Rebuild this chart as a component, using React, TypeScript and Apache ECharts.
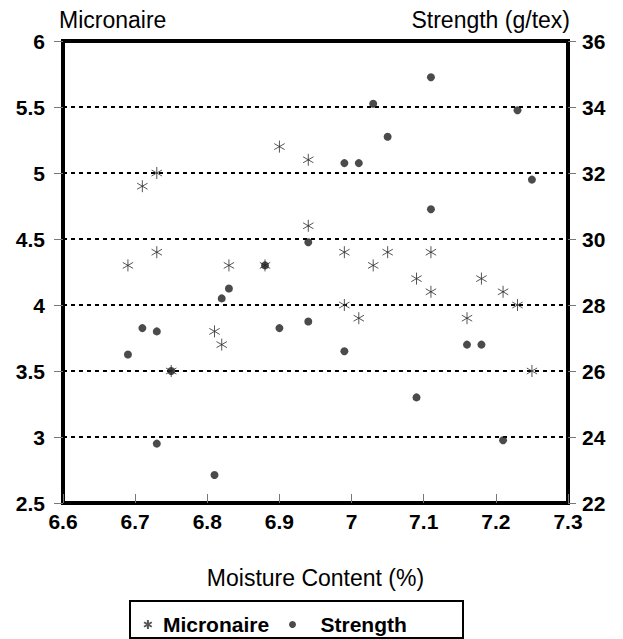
import React, { useEffect, useRef } from "react";
import * as echarts from "echarts";

const moisture = [6.69, 6.71, 6.73, 6.73, 6.75, 6.81, 6.82, 6.83, 6.88, 6.9, 6.94, 6.94, 6.99, 6.99, 7.01, 7.03, 7.05, 7.09, 7.11, 7.11, 7.16, 7.18, 7.21, 7.23, 7.25];
const micronaire = [4.3, 4.9, 5.0, 4.4, 3.5, 3.8, 3.7, 4.3, 4.3, 5.2, 5.1, 4.6, 4.4, 4.0, 3.9, 4.3, 4.4, 4.2, 4.4, 4.1, 3.9, 4.2, 4.1, 4.0, 3.5];
const strengthMoisture = [6.69, 6.71, 6.73, 6.73, 6.75, 6.81, 6.82, 6.83, 6.88, 6.9, 6.94, 6.94, 6.99, 6.99, 7.01, 7.03, 7.05, 7.09, 7.11, 7.11, 7.16, 7.18, 7.21, 7.23, 7.25];
const strength = [26.5, 27.3, 27.2, 23.8, 26.0, 22.85, 28.2, 28.5, 29.2, 27.3, 29.9, 27.5, 32.3, 26.6, 32.3, 34.1, 33.1, 25.2, 34.9, 30.9, 26.8, 26.8, 23.9, 33.9, 31.8];

const FONT = "Liberation Sans, Arial, sans-serif";
const STAR = "path://M0,-6L0,6M-5.2,-3L5.2,3M-5.2,3L5.2,-3";

export default function App() {
  const ref = useRef<HTMLDivElement>(null);
  useEffect(() => {
    if (!ref.current) return;
    const chart = echarts.init(ref.current, null, { renderer: "svg" });
    const fmt = (v: number) => String(+Number(v).toFixed(1));
    chart.setOption({
      animation: false,
      backgroundColor: "#fff",
      textStyle: { fontFamily: FONT, color: "#000" },
      grid: { left: 63, right: 55, top: 41, bottom: 136, show: true, borderColor: "#000", borderWidth: 4, backgroundColor: "transparent" },
      xAxis: {
        type: "value",
        min: 6.6,
        max: 7.3,
        interval: 0.1,
        name: "Moisture Content (%)",
        nameLocation: "middle",
        nameGap: 63,
        nameTextStyle: { fontSize: 23, fontFamily: FONT, color: "#000" },
        axisLine: { show: true, lineStyle: { color: "#000", width: 4 } },
        axisTick: { show: true, inside: true, length: 9, lineStyle: { color: "#777", width: 1 } },
        axisLabel: { fontSize: 21, fontWeight: "bold", color: "#000", fontFamily: FONT, margin: 8, formatter: fmt },
        splitLine: { show: false },
      },
      yAxis: [
        {
          type: "value",
          min: 2.5,
          max: 6,
          interval: 0.5,
          position: "left",
          name: "Micronaire",
          nameLocation: "end",
          nameGap: 10,
          nameTextStyle: { fontSize: 23, fontFamily: FONT, color: "#000", align: "left", verticalAlign: "bottom", padding: [0, 0, 0, -4] },
          axisLine: { show: true, lineStyle: { color: "#000", width: 4 } },
          axisTick: { show: true, inside: false, length: 9, lineStyle: { color: "#777", width: 1 } },
          axisLabel: { fontSize: 21, fontWeight: "bold", color: "#000", fontFamily: FONT, margin: 18, formatter: fmt },
          splitLine: { show: true, lineStyle: { color: "#000", width: 2, type: [4, 4] } },
        },
        {
          type: "value",
          min: 22,
          max: 36,
          interval: 2,
          position: "right",
          name: "Strength (g/tex)",
          nameLocation: "end",
          nameGap: 10,
          nameTextStyle: { fontSize: 23, fontFamily: FONT, color: "#000", align: "right", verticalAlign: "bottom", padding: [0, -2, 0, 0] },
          axisLine: { show: true, lineStyle: { color: "#000", width: 4 } },
          axisTick: { show: true, inside: false, length: 8, lineStyle: { color: "#777", width: 1 } },
          axisLabel: { fontSize: 21, fontWeight: "bold", color: "#000", fontFamily: FONT, margin: 14 },
          splitLine: { show: false },
        },
      ],
      legend: [
        {
          data: [{ name: "Micronaire", icon: STAR }],
          left: 143,
          top: 614,
          padding: 0,
          itemWidth: 20,
          itemHeight: 9,
          textStyle: { fontSize: 21, fontWeight: "bold", fontFamily: FONT, color: "#000" },
          selectedMode: false,
        },
        {
          data: [{ name: "Strength", icon: "circle" }],
          left: 289,
          top: 614,
          padding: 0,
          itemWidth: 46,
          itemHeight: 7,
          textStyle: { fontSize: 21, fontWeight: "bold", fontFamily: FONT, color: "#000" },
          selectedMode: false,
        },
      ],
      graphic: [
        {
          type: "rect",
          shape: { x: 130, y: 601, width: 333, height: 37 },
          style: { fill: "none", stroke: "#000", lineWidth: 2 },
          silent: true,
        },
      ],
      series: [
        {
          name: "Micronaire",
          type: "scatter",
          yAxisIndex: 0,
          symbol: STAR,
          symbolSize: 12,
          symbolKeepAspect: true,
          itemStyle: { color: "transparent", borderColor: "#2a2a2a", borderWidth: 1 },
          data: moisture.map((x, i) => [x, micronaire[i]]),
          z: 3,
        },
        {
          name: "Strength",
          type: "scatter",
          yAxisIndex: 1,
          symbol: "circle",
          symbolSize: 8,
          itemStyle: { color: "#1e1e1e" },
          data: strengthMoisture.map((x, i) => [x, strength[i]]),
          z: 4,
        },
      ],
    });
    return () => chart.dispose();
  }, []);
  return <div ref={ref} style={{ position: "fixed", left: 0, top: 0, width: 623, height: 639 }} />;
}
